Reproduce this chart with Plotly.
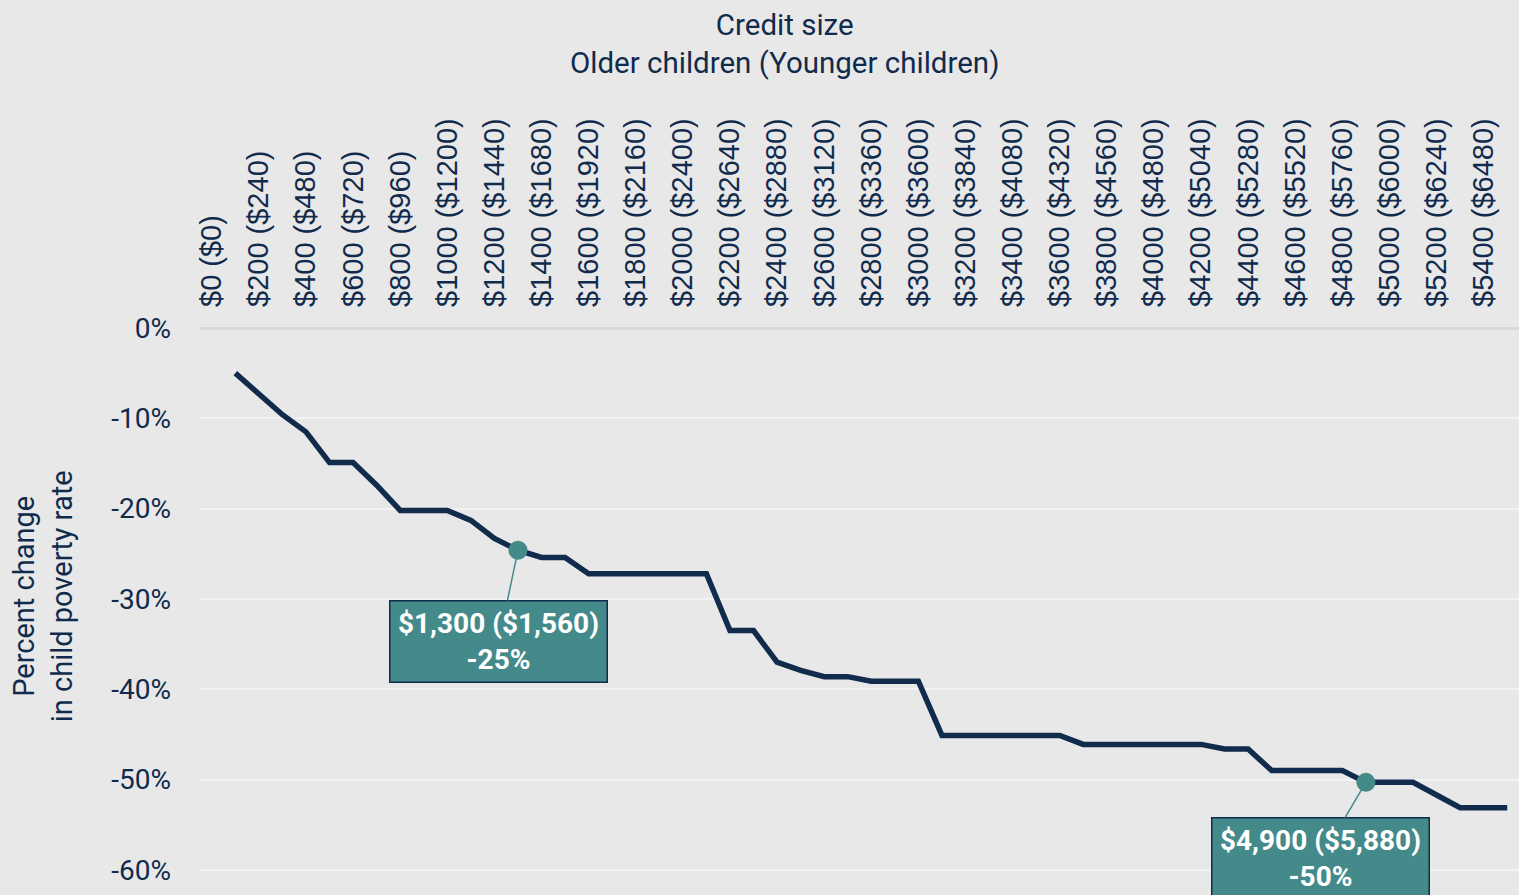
import plotly.graph_objects as go

# Credit size for older children, in dollars (data points every $100)
credit_older = [100, 200, 300, 400, 500, 600, 700, 800, 900, 1000,
                1100, 1200, 1300, 1400, 1500, 1600, 1700, 1800, 1900, 2000,
                2100, 2200, 2300, 2400, 2500, 2600, 2700, 2800, 2900, 3000,
                3100, 3200, 3300, 3400, 3500, 3600, 3700, 3800, 3900, 4000,
                4100, 4200, 4300, 4400, 4500, 4600, 4700, 4800, 4900, 5000,
                5100, 5200, 5300, 5400, 5500]
pct_change = [-5.0, -7.4, -9.6, -11.5, -14.9, -14.9, -17.4, -20.2, -20.2, -20.2,
              -21.3, -23.3, -24.6, -25.4, -25.4, -27.2, -27.2, -27.2, -27.2, -27.2,
              -27.2, -33.5, -33.5, -37.0, -37.9, -38.6, -38.6, -39.1, -39.1, -39.1,
              -45.1, -45.1, -45.1, -45.1, -45.1, -45.1, -46.1, -46.1, -46.1, -46.1,
              -46.1, -46.1, -46.6, -46.6, -49.0, -49.0, -49.0, -49.0, -50.3, -50.3,
              -50.3, -51.7, -53.1, -53.1, -53.1]

tick_vals = list(range(0, 5401, 200))
tick_text = ["$0 ($0)", "$200 ($240)", "$400 ($480)", "$600 ($720)", "$800 ($960)",
             "$1000 ($1200)", "$1200 ($1440)", "$1400 ($1680)", "$1600 ($1920)",
             "$1800 ($2160)", "$2000 ($2400)", "$2200 ($2640)", "$2400 ($2880)",
             "$2600 ($3120)", "$2800 ($3360)", "$3000 ($3600)", "$3200 ($3840)",
             "$3400 ($4080)", "$3600 ($4320)", "$3800 ($4560)", "$4000 ($4800)",
             "$4200 ($5040)", "$4400 ($5280)", "$4600 ($5520)", "$4800 ($5760)",
             "$5000 ($6000)", "$5200 ($6240)", "$5400 ($6480)"]

y_ticks = [0, -10, -20, -30, -40, -50, -60]
y_tick_text = ["0%", "-10%", "-20%", "-30%", "-40%", "-50%", "-60%"]

highlight_x = [1300, 4900]
highlight_y = [-24.6, -50.3]
highlight_labels = ["$1,300 ($1,560)<br>-25%", "$4,900 ($5,880)<br>-50%"]

NAVY = "#112b4d"
TEAL = "#458a8a"
BG = "#e8e8e8"

fig = go.Figure()
fig.add_trace(go.Scatter(x=credit_older, y=pct_change, mode="lines",
                         line=dict(color=NAVY, width=5.5), hoverinfo="skip"))
fig.add_trace(go.Scatter(x=highlight_x, y=highlight_y, mode="markers",
                         marker=dict(color=TEAL, size=19), hoverinfo="skip"))

offsets = [(-19, 91), (-45, 76)]
for (hx, hy, lab, (ax, ay)) in zip(highlight_x, highlight_y, highlight_labels, offsets):
    fig.add_annotation(x=hx, y=hy, text="<b>" + lab + "</b>", showarrow=True,
                       arrowhead=0, arrowwidth=1.5, arrowcolor=TEAL,
                       ax=ax, ay=ay, bgcolor=TEAL, bordercolor=NAVY, borderwidth=1.5,
                       width=214, height=78, align="center",
                       font=dict(family="Roboto", size=28, color="white"))

fig.add_annotation(xref="paper", yref="paper", x=0.4428, y=1.5009,
                   text="Credit size<br>Older children (Younger children)",
                   showarrow=False, xanchor="center", yanchor="middle",
                   font=dict(family="Roboto", size=29.5, color=NAVY))
fig.add_annotation(xref="paper", yref="paper", x=-0.119, y=0.527,
                   text="Percent change<br>in child poverty rate", textangle=-90,
                   showarrow=False, xanchor="center", yanchor="middle",
                   font=dict(family="Roboto", size=29, color=NAVY))

fig.update_layout(
    width=1519, height=895,
    margin=dict(l=200, r=0, t=328, b=0),
    paper_bgcolor=BG, plot_bgcolor=BG,
    showlegend=False,
    xaxis=dict(side="top", range=[-50, 5550], tickvals=tick_vals, ticktext=tick_text,
               tickangle=-90, showgrid=False, zeroline=False, ticks="",
               ticklabelstandoff=20,
               tickfont=dict(family="Liberation Sans", size=29, color=NAVY)),
    yaxis=dict(range=[-62.77, 0], tickvals=y_ticks, ticktext=y_tick_text,
               showgrid=True, gridcolor="#f3f3f3", gridwidth=2,
               zeroline=True, zerolinecolor="#d8d8d8", zerolinewidth=3,
               ticks="", ticklabelstandoff=28,
               tickfont=dict(family="Roboto", size=28, color=NAVY)),
)

fig.write_html("out.html", config={"displayModeBar": False},
               post_script="document.body.style.margin='0';"
                           "document.body.style.background='#e8e8e8';")
